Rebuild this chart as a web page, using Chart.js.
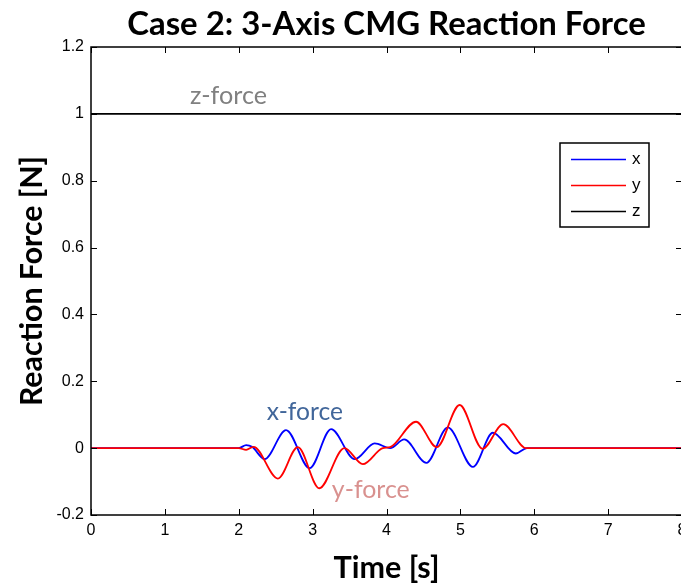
<!DOCTYPE html>
<html lang="en">
<head>
<meta charset="UTF-8">
<title>Case 2: 3-Axis CMG Reaction Force</title>
<style>
  html, body { margin: 0; padding: 0; overflow: hidden; background: #fff; }
</style>
</head>
<body>
<canvas id="myChart" width="700" height="587"></canvas>
<script src="https://cdn.jsdelivr.net/npm/chart.js"></script>
<script>
// values
const xTimes = [0, 2.0, 2.1, 2.18, 2.35, 2.64, 2.96, 3.25, 3.57, 3.84, 4.05, 4.24, 4.54, 4.83, 5.17, 5.44, 5.75, 5.9, 8];
const xForce = [0, 0, 0.009, 0.004, -0.033, 0.054, -0.06, 0.057, -0.033, 0.014, 0.0, 0.026, -0.044, 0.062, -0.056, 0.046, -0.016, 0, 0];
const yTimes = [0, 2.0, 2.1, 2.2, 2.53, 2.8, 3.09, 3.43, 3.68, 3.95, 4.05, 4.4, 4.68, 4.99, 5.3, 5.58, 5.89, 8];
const yForce = [0, 0, -0.005, 0.004, -0.091, 0.003, -0.12, 0.0, -0.048, 0.0, 0.003, 0.079, 0.003, 0.129, -0.002, 0.072, 0, 0];
const zTimes = [0, 8];
const zForce = [1, 1];

const seriesNames = ["x", "y", "z"];
const noteLabels = ["z-force", "x-force", "y-force"];

const titleText = "Case 2: 3-Axis CMG Reaction Force";
const xTitle = "Time [s]";
const yTitle = "Reaction Force [N]";

function toPoints(ts, vs) {
    let out = [];
    for (let i = 0; i < ts.length; i++) out.push({ x: ts[i], y: vs[i] });
    return out;
}

// pick a font size so the text is about as wide as in the reference
function fitFont(ctx, text, weight, family, width) {
    ctx.font = weight + " 100px " + family;
    let s = 100 * width / ctx.measureText(text).width;
    return weight + " " + s.toFixed(1) + "px " + family;
}

Chart.defaults.font.family = "'Liberation Sans', Arial, sans-serif";
Chart.defaults.font.size = 16;
Chart.defaults.color = "#000";

const framePlugin = {
    id: "frame",
    afterDatasetsDraw(chart) {
        const ctx = chart.ctx;
        const a = chart.chartArea;
        const xs = chart.scales.x, ys = chart.scales.y;
        ctx.save();
        ctx.strokeStyle = "#000";
        ctx.lineWidth = 1.5;
        ctx.strokeRect(a.left, a.top, a.right - a.left, a.bottom - a.top);

        // inward ticks on all four sides
        ctx.lineWidth = 1;
        ctx.beginPath();
        xs.ticks.forEach(t => {
            let p = Math.round(xs.getPixelForValue(t.value)) + 0.5;
            ctx.moveTo(p, a.bottom); ctx.lineTo(p, a.bottom - 6);
            ctx.moveTo(p, a.top); ctx.lineTo(p, a.top + 6);
        });
        ys.ticks.forEach(t => {
            let p = Math.round(ys.getPixelForValue(t.value)) + 0.5;
            ctx.moveTo(a.left, p); ctx.lineTo(a.left + 6, p);
            ctx.moveTo(a.right, p); ctx.lineTo(a.right - 6, p);
        });
        ctx.stroke();

        // text notes placed in data coordinates
        const notes = [
            { t: 1.34, v: 1.03, color: "#808080", width: 77 },
            { t: 2.38, v: 0.084, color: "#41669a", width: 76 },
            { t: 3.26, v: -0.15, color: "#d9918f", width: 78 }
        ];
        ctx.textBaseline = "alphabetic";
        ctx.textAlign = "left";
        notes.forEach((n, i) => {
            ctx.font = fitFont(ctx, noteLabels[i], "normal", "Lato", n.width);
            ctx.fillStyle = n.color;
            ctx.fillText(noteLabels[i], xs.getPixelForValue(n.t), ys.getPixelForValue(n.v));
        });

        // legend box
        const lx = 560, ly = 143, lw = 89, lh = 84;
        ctx.fillStyle = "#fff";
        ctx.fillRect(lx, ly, lw, lh);
        ctx.lineWidth = 1.5;
        ctx.strokeStyle = "#000";
        ctx.strokeRect(lx, ly, lw, lh);
        ctx.font = "17px 'Liberation Sans'";
        ctx.textBaseline = "middle";
        const legendOrder = [0, 1, 2];
        legendOrder.forEach((di, k) => {
            const ds = chart.data.datasets[di];
            const yy = ly + 16 + k * 26 + 0.5;
            ctx.strokeStyle = ds.borderColor;
            ctx.lineWidth = 1.5;
            ctx.beginPath();
            ctx.moveTo(lx + 11, yy); ctx.lineTo(lx + 66, yy);
            ctx.stroke();
            ctx.fillStyle = "#000";
            ctx.fillText(ds.label, lx + 72, yy);
        });
        ctx.restore();
    },
    afterDraw(chart) {
        const ctx = chart.ctx;
        const a = chart.chartArea;
        const cx = (a.left + a.right) / 2;
        ctx.save();
        ctx.fillStyle = "#000";
        ctx.textAlign = "center";
        ctx.textBaseline = "alphabetic";
        ctx.font = fitFont(ctx, titleText, "bold", "Lato", 518);
        ctx.fillText(titleText, cx, 35);
        ctx.font = fitFont(ctx, xTitle, "bold", "Lato", 106);
        ctx.fillText(xTitle, cx, 578);
        ctx.translate(42, (a.top + a.bottom) / 2);
        ctx.rotate(-Math.PI / 2);
        ctx.font = fitFont(ctx, yTitle, "bold", "Lato", 250);
        ctx.fillText(yTitle, 0, 0);
        ctx.restore();
    }
};

const ctx = document.getElementById("myChart");

new Chart(ctx, {
    type: "line",
    data: {
        datasets: [
            { label: seriesNames[0], data: toPoints(xTimes, xForce), borderColor: "#0000ff", order: 1 },
            { label: seriesNames[1], data: toPoints(yTimes, yForce), borderColor: "#ff0000", order: 0 },
            { label: seriesNames[2], data: toPoints(zTimes, zForce), borderColor: "#000000", order: 2 }
        ]
    },
    options: {
        responsive: false,
        animation: false,
        layout: { padding: { top: 47, right: 18, left: 0, bottom: 0 } },
        elements: {
            point: { radius: 0 },
            line: { borderWidth: 1.8, cubicInterpolationMode: "monotone", fill: false }
        },
        plugins: {
            legend: { display: false },
            tooltip: { enabled: false }
        },
        scales: {
            x: {
                type: "linear",
                min: 0, max: 8,
                grid: { display: false, drawTicks: false },
                border: { display: false },
                ticks: { stepSize: 1, padding: 6, color: "#000", font: { size: 16 }, maxRotation: 0 },
                afterFit(s) { s.height = 72; }
            },
            y: {
                min: -0.2, max: 1.2,
                grid: { display: false, drawTicks: false },
                border: { display: false },
                ticks: {
                    stepSize: 0.2, padding: 7, color: "#000",
                    font: { size: 16 },
                    callback: v => String(+v.toFixed(1))
                },
                afterFit(s) { s.width = 91; }
            }
        }
    },
    plugins: [framePlugin]
});
</script>
</body>
</html>
